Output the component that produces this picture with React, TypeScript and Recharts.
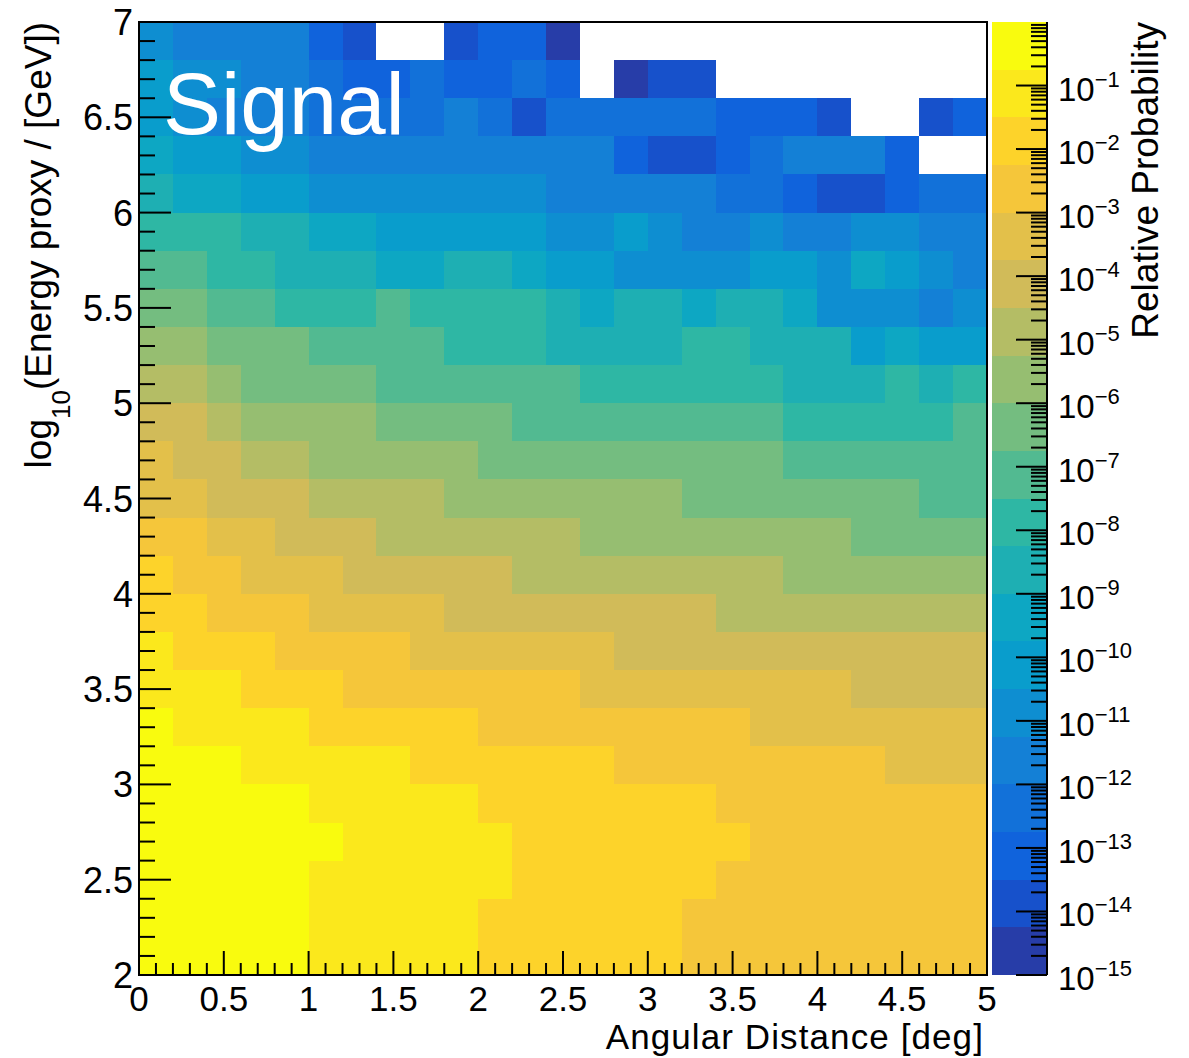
import React from 'react';
import { ScatterChart, XAxis, YAxis, ReferenceArea } from 'recharts';

// Angular distance bins (lower edges, deg) and energy bins (lower edges of log10 E / GeV, top row first)
const angleBinLow = [0, 0.2, 0.4, 0.6, 0.8, 1, 1.2, 1.4, 1.6, 1.8, 2, 2.2, 2.4, 2.6, 2.8, 3, 3.2, 3.4, 3.6, 3.8, 4, 4.2, 4.4, 4.6, 4.8];
const energyBinLow = [6.8, 6.6, 6.4, 6.2, 6, 5.8, 5.6, 5.4, 5.2, 5, 4.8, 4.6, 4.4, 4.2, 4, 3.8, 3.6, 3.4, 3.2, 3, 2.8, 2.6, 2.4, 2.2, 2];
const BIN_WIDTH = 0.2;

// log10 of the relative probability per bin; one row per energy bin (same order as energyBinLow), null = empty bin
const log10RelProb: (number | null)[][] = [
  [-10.9, -11.6, -11.6, -11.6, -11.6, -13.1, -13.9, null, null, -13.9, -13.1, -13.1, -14.6, null, null, null, null, null, null, null, null, null, null, null, null],
  [-10.1, -10.9, -10.9, -11.6, -11.6, -12.4, -13.1, -13.1, -12.4, -13.1, -13.1, -12.4, -13.1, null, -14.6, -13.9, -13.9, null, null, null, null, null, null, null, null],
  [-10.1, -10.9, -11.6, -11.6, -11.6, -12.4, -12.4, -12.4, -12.4, -11.6, -12.4, -13.9, -12.4, -12.4, -12.4, -12.4, -12.4, -13.1, -13.1, -13.1, -13.9, null, null, -13.9, -13.1],
  [-9.4, -10.1, -10.1, -10.9, -10.9, -11.6, -11.6, -11.6, -11.6, -11.6, -11.6, -11.6, -11.6, -11.6, -13.1, -13.9, -13.9, -13.1, -12.4, -11.6, -11.6, -11.6, -13.1, null, null],
  [-8.6, -9.4, -9.4, -10.1, -10.1, -10.9, -10.9, -10.9, -10.9, -10.9, -10.9, -10.9, -11.6, -11.6, -11.6, -11.6, -11.6, -12.4, -12.4, -13.1, -13.9, -13.9, -13.1, -12.4, -12.4],
  [-7.9, -7.9, -7.9, -8.6, -8.6, -9.4, -9.4, -10.1, -10.1, -10.1, -10.1, -10.1, -10.9, -10.9, -10.1, -10.9, -11.6, -11.6, -10.9, -11.6, -11.6, -10.9, -10.9, -11.6, -11.6],
  [-7.1, -7.1, -7.9, -7.9, -8.6, -8.6, -8.6, -9.4, -9.4, -8.6, -8.6, -9.4, -10.1, -10.1, -10.9, -10.9, -10.9, -10.9, -10.1, -10.1, -10.9, -9.4, -10.1, -10.9, -11.6],
  [-6.4, -6.4, -7.1, -7.1, -7.9, -7.9, -7.9, -7.1, -7.9, -7.9, -7.9, -7.9, -8.6, -9.4, -8.6, -8.6, -9.4, -8.6, -8.6, -9.4, -10.9, -10.9, -10.9, -11.6, -10.9],
  [-5.6, -5.6, -6.4, -6.4, -6.4, -7.1, -7.1, -7.1, -7.1, -7.9, -7.9, -7.9, -8.6, -8.6, -8.6, -8.6, -7.9, -7.9, -8.6, -8.6, -8.6, -10.1, -9.4, -10.1, -10.1],
  [-4.9, -4.9, -5.6, -6.4, -6.4, -6.4, -6.4, -7.1, -7.1, -7.1, -7.1, -7.1, -7.1, -7.9, -7.9, -7.9, -7.9, -7.9, -7.9, -8.6, -8.6, -8.6, -7.9, -8.6, -7.9],
  [-4.1, -4.1, -4.9, -5.6, -5.6, -5.6, -5.6, -6.4, -6.4, -6.4, -6.4, -7.1, -7.1, -7.1, -7.1, -7.1, -7.1, -7.1, -7.1, -7.9, -7.9, -7.9, -7.9, -7.9, -7.1],
  [-3.4, -4.1, -4.1, -4.9, -4.9, -5.6, -5.6, -5.6, -5.6, -5.6, -6.4, -6.4, -6.4, -6.4, -6.4, -6.4, -6.4, -6.4, -6.4, -7.1, -7.1, -7.1, -7.1, -7.1, -7.1],
  [-3.4, -3.4, -4.1, -4.1, -4.1, -4.9, -4.9, -4.9, -4.9, -5.6, -5.6, -5.6, -5.6, -5.6, -5.6, -5.6, -6.4, -6.4, -6.4, -6.4, -6.4, -6.4, -6.4, -7.1, -7.1],
  [-2.6, -2.6, -3.4, -3.4, -4.1, -4.1, -4.1, -4.9, -4.9, -4.9, -4.9, -4.9, -4.9, -5.6, -5.6, -5.6, -5.6, -5.6, -5.6, -5.6, -5.6, -6.4, -6.4, -6.4, -6.4],
  [-1.9, -2.6, -2.6, -3.4, -3.4, -3.4, -4.1, -4.1, -4.1, -4.1, -4.1, -4.9, -4.9, -4.9, -4.9, -4.9, -4.9, -4.9, -4.9, -5.6, -5.6, -5.6, -5.6, -5.6, -5.6],
  [-1.9, -1.9, -2.6, -2.6, -2.6, -3.4, -3.4, -3.4, -3.4, -4.1, -4.1, -4.1, -4.1, -4.1, -4.1, -4.1, -4.1, -4.9, -4.9, -4.9, -4.9, -4.9, -4.9, -4.9, -4.9],
  [-1.1, -1.9, -1.9, -1.9, -2.6, -2.6, -2.6, -2.6, -3.4, -3.4, -3.4, -3.4, -3.4, -3.4, -4.1, -4.1, -4.1, -4.1, -4.1, -4.1, -4.1, -4.1, -4.1, -4.1, -4.1],
  [-1.1, -1.1, -1.1, -1.9, -1.9, -1.9, -2.6, -2.6, -2.6, -2.6, -2.6, -2.6, -2.6, -3.4, -3.4, -3.4, -3.4, -3.4, -3.4, -3.4, -3.4, -4.1, -4.1, -4.1, -4.1],
  [-0.4, -1.1, -1.1, -1.1, -1.1, -1.9, -1.9, -1.9, -1.9, -1.9, -2.6, -2.6, -2.6, -2.6, -2.6, -2.6, -2.6, -2.6, -3.4, -3.4, -3.4, -3.4, -3.4, -3.4, -3.4],
  [-0.4, -0.4, -0.4, -1.1, -1.1, -1.1, -1.1, -1.1, -1.9, -1.9, -1.9, -1.9, -1.9, -1.9, -2.6, -2.6, -2.6, -2.6, -2.6, -2.6, -2.6, -2.6, -3.4, -3.4, -3.4],
  [-0.4, -0.4, -0.4, -0.4, -0.4, -1.1, -1.1, -1.1, -1.1, -1.1, -1.9, -1.9, -1.9, -1.9, -1.9, -1.9, -1.9, -2.6, -2.6, -2.6, -2.6, -2.6, -2.6, -2.6, -2.6],
  [-0.4, -0.4, -0.4, -0.4, -0.4, -0.4, -1.1, -1.1, -1.1, -1.1, -1.1, -1.9, -1.9, -1.9, -1.9, -1.9, -1.9, -1.9, -2.6, -2.6, -2.6, -2.6, -2.6, -2.6, -2.6],
  [-0.4, -0.4, -0.4, -0.4, -0.4, -1.1, -1.1, -1.1, -1.1, -1.1, -1.1, -1.9, -1.9, -1.9, -1.9, -1.9, -1.9, -2.6, -2.6, -2.6, -2.6, -2.6, -2.6, -2.6, -2.6],
  [-0.4, -0.4, -0.4, -0.4, -0.4, -1.1, -1.1, -1.1, -1.1, -1.1, -1.9, -1.9, -1.9, -1.9, -1.9, -1.9, -2.6, -2.6, -2.6, -2.6, -2.6, -2.6, -2.6, -2.6, -2.6],
  [-0.4, -0.4, -0.4, -0.4, -0.4, -1.1, -1.1, -1.1, -1.1, -1.1, -1.9, -1.9, -1.9, -1.9, -1.9, -1.9, -2.6, -2.6, -2.6, -2.6, -2.6, -2.6, -2.6, -2.6, -2.6],
];

// Axis tick labels
const xMajorTicks = [0, 0.5, 1, 1.5, 2, 2.5, 3, 3.5, 4, 4.5, 5];
const yMajorTicks = [2, 2.5, 3, 3.5, 4, 4.5, 5, 5.5, 6, 6.5, 7];
const zDecades = [-15, -14, -13, -12, -11, -10, -9, -8, -7, -6, -5, -4, -3, -2, -1];

// Colour scale: log10 range and number of contour levels
const Z_LOG_MIN = -15;
const Z_LOG_MAX = 0;
const N_CONTOURS = 20;

// ROOT "kBird" palette stops
const BIRD_STOPS = [0.0, 0.125, 0.25, 0.375, 0.5, 0.625, 0.75, 0.875, 1.0];
const BIRD_R = [0.2082, 0.0592, 0.078, 0.0232, 0.1802, 0.5301, 0.8186, 0.9956, 0.9764];
const BIRD_G = [0.1664, 0.3599, 0.5041, 0.6419, 0.7178, 0.7492, 0.7328, 0.7862, 0.9832];
const BIRD_B = [0.5293, 0.8684, 0.8385, 0.7914, 0.6425, 0.4662, 0.3499, 0.1968, 0.0539];

const FONT = '"Liberation Sans", Arial, Helvetica, sans-serif';

function bird(t: number): string {
  let i = 0;
  while (i < BIRD_STOPS.length - 2 && t > BIRD_STOPS[i + 1]) i++;
  const f = (t - BIRD_STOPS[i]) / (BIRD_STOPS[i + 1] - BIRD_STOPS[i]);
  const ch = (arr: number[]) => Math.round(255 * (arr[i] + (arr[i + 1] - arr[i]) * f));
  return `rgb(${ch(BIRD_R)},${ch(BIRD_G)},${ch(BIRD_B)})`;
}

function levelColor(level: number): string {
  const idx = Math.floor(((level + 0.99) * 255) / N_CONTOURS);
  return bird(idx / 254);
}

function levelOf(logValue: number): number {
  const l = Math.floor(((logValue - Z_LOG_MIN) / (Z_LOG_MAX - Z_LOG_MIN)) * N_CONTOURS);
  return Math.max(0, Math.min(N_CONTOURS - 1, l));
}

const levelStep = (Z_LOG_MAX - Z_LOG_MIN) / N_CONTOURS;
const colorLevels = Array.from({ length: N_CONTOURS }, (_, k) => ({
  lo: Math.pow(10, Z_LOG_MIN + k * levelStep),
  hi: Math.pow(10, Z_LOG_MIN + (k + 1) * levelStep),
  color: levelColor(k),
}));

// Minor ticks every 0.1 between the labelled ones
const withMinor = (majors: number[]) => {
  const out: number[] = [];
  for (let i = 0; i < majors.length - 1; i++) {
    for (let k = 0; k < 5; k++) out.push(Math.round((majors[i] + k * 0.1) * 10) / 10);
  }
  out.push(majors[majors.length - 1]);
  return out;
};
const xTicks = withMinor(xMajorTicks);
const yTicks = withMinor(yMajorTicks);

const zTicks: number[] = [];
zDecades.forEach((d) => {
  for (let m = 1; m <= 9; m++) zTicks.push(m * Math.pow(10, d));
});

const isHalf = (v: number) => Math.abs(v * 2 - Math.round(v * 2)) < 1e-6;
const fmt = (v: number) => String(Math.round(v * 10) / 10);

const XTick = (props: any) => {
  const { x, y, payload } = props;
  const v = payload.value as number;
  const major = isHalf(v);
  return (
    <g>
      <line x1={x} x2={x} y1={y} y2={y - (major ? 24 : 12)} stroke="#000" strokeWidth={2} />
      {major && (
        <text x={x} y={y + 36} textAnchor="middle" fontSize={35} fontFamily={FONT} fill="#000">
          {fmt(v)}
        </text>
      )}
    </g>
  );
};

const YTick = (props: any) => {
  const { x, y, payload } = props;
  const v = payload.value as number;
  const major = isHalf(v);
  return (
    <g>
      <line x1={x} x2={x + (major ? 32 : 16)} y1={y} y2={y} stroke="#000" strokeWidth={2} />
      {major && (
        <text x={x - 6} y={y + 13} textAnchor="end" fontSize={36} fontFamily={FONT} fill="#000">
          {fmt(v)}
        </text>
      )}
    </g>
  );
};

const ZTick = (props: any) => {
  const { x, y, payload } = props;
  const lg = Math.log10(payload.value as number);
  const major = Math.abs(lg - Math.round(lg)) < 1e-6;
  return (
    <g>
      <line x1={x} x2={x - (major ? 31 : 16)} y1={y} y2={y} stroke="#000" strokeWidth={2} />
      {major && (
        <text x={x + 11} y={y + 15} fontSize={33} fontFamily={FONT} fill="#000">
          10
          <tspan dy={-14} fontSize={22}>
            {'\u2212' + Math.abs(Math.round(lg))}
          </tspan>
        </text>
      )}
    </g>
  );
};

const CellRect = (fill: string) => (p: any) => (
  <rect x={p.x} y={p.y} width={p.width} height={p.height} fill={fill} stroke="none" shapeRendering="crispEdges" />
);

const cells: { x1: number; x2: number; y1: number; y2: number; color: string; key: string }[] = [];
log10RelProb.forEach((row, r) => {
  row.forEach((lv, c) => {
    if (lv === null) return;
    const x1 = angleBinLow[c];
    const y1 = energyBinLow[r];
    cells.push({
      x1,
      x2: x1 + BIN_WIDTH,
      y1,
      y2: y1 + BIN_WIDTH,
      color: levelColor(levelOf(lv)),
      key: `${r}-${c}`,
    });
  });
});

export default function App() {
  return (
    <div style={{ position: 'absolute', left: 0, top: 0, width: 1189, height: 1058, background: '#fff' }}>
      <div style={{ position: 'absolute', left: 0, top: 0 }}>
        <ScatterChart width={1189} height={1058} margin={{ top: 22, right: 202, bottom: 43, left: 79 }}>
          {cells.map((c) => (
            <ReferenceArea
              key={c.key}
              x1={c.x1}
              x2={c.x2}
              y1={c.y1}
              y2={c.y2}
              fill={c.color}
              fillOpacity={1}
              stroke="none"
              ifOverflow="visible"
              shape={CellRect(c.color)}
            />
          ))}
          <XAxis
            type="number"
            dataKey="x"
            domain={[0, 5]}
            allowDataOverflow
            ticks={xTicks}
            interval={0}
            height={40}
            tickSize={0}
            tickMargin={0}
            axisLine={false}
            tickLine={false}
            tick={(p: any) => <XTick {...p} />}
          />
          <YAxis
            type="number"
            dataKey="y"
            domain={[2, 7]}
            allowDataOverflow
            ticks={yTicks}
            interval={0}
            width={60}
            tickSize={0}
            tickMargin={0}
            axisLine={false}
            tickLine={false}
            tick={(p: any) => <YTick {...p} />}
          />
        </ScatterChart>
      </div>

      <div style={{ position: 'absolute', left: 960, top: 0 }}>
        <ScatterChart width={229} height={1058} margin={{ top: 22, right: 82, bottom: 83, left: 32 }}>
          {colorLevels.map((lv, k) => (
            <ReferenceArea
              key={k}
              x1={0}
              x2={1}
              y1={lv.lo}
              y2={lv.hi}
              fill={lv.color}
              fillOpacity={1}
              stroke="none"
              ifOverflow="visible"
              shape={CellRect(lv.color)}
            />
          ))}
          <XAxis type="number" dataKey="x" domain={[0, 1]} allowDataOverflow hide />
          <YAxis
            type="number"
            dataKey="z"
            orientation="right"
            scale="log"
            domain={[Math.pow(10, Z_LOG_MIN), Math.pow(10, Z_LOG_MAX)]}
            allowDataOverflow
            ticks={zTicks}
            interval={0}
            width={60}
            tickSize={0}
            tickMargin={0}
            axisLine={{ stroke: '#000', strokeWidth: 2 }}
            tickLine={false}
            tick={(p: any) => <ZTick {...p} />}
          />
        </ScatterChart>
      </div>

      <svg
        width={1189}
        height={1058}
        style={{ position: 'absolute', left: 0, top: 0, pointerEvents: 'none' }}
        fontFamily={FONT}
      >
        <rect x={139} y={22} width={848} height={953} fill="none" stroke="#000" strokeWidth={2} />
        <text x={163} y={134} fontSize={87} fill="#fff">
          Signal
        </text>
        <text x={984} y={1049} textAnchor="end" fontSize={35} letterSpacing={1.1} fill="#000">
          Angular Distance [deg]
        </text>
        <text transform="translate(51,22) rotate(-90)" textAnchor="end" fontSize={37} fill="#000">
          log
          <tspan dy={19} fontSize={26}>
            10
          </tspan>
          <tspan dy={-19}>(Energy proxy / [GeV])</tspan>
        </text>
        <text transform="translate(1158,22) rotate(-90)" textAnchor="end" fontSize={37} fill="#000">
          Relative Probability
        </text>
      </svg>
    </div>
  );
}
